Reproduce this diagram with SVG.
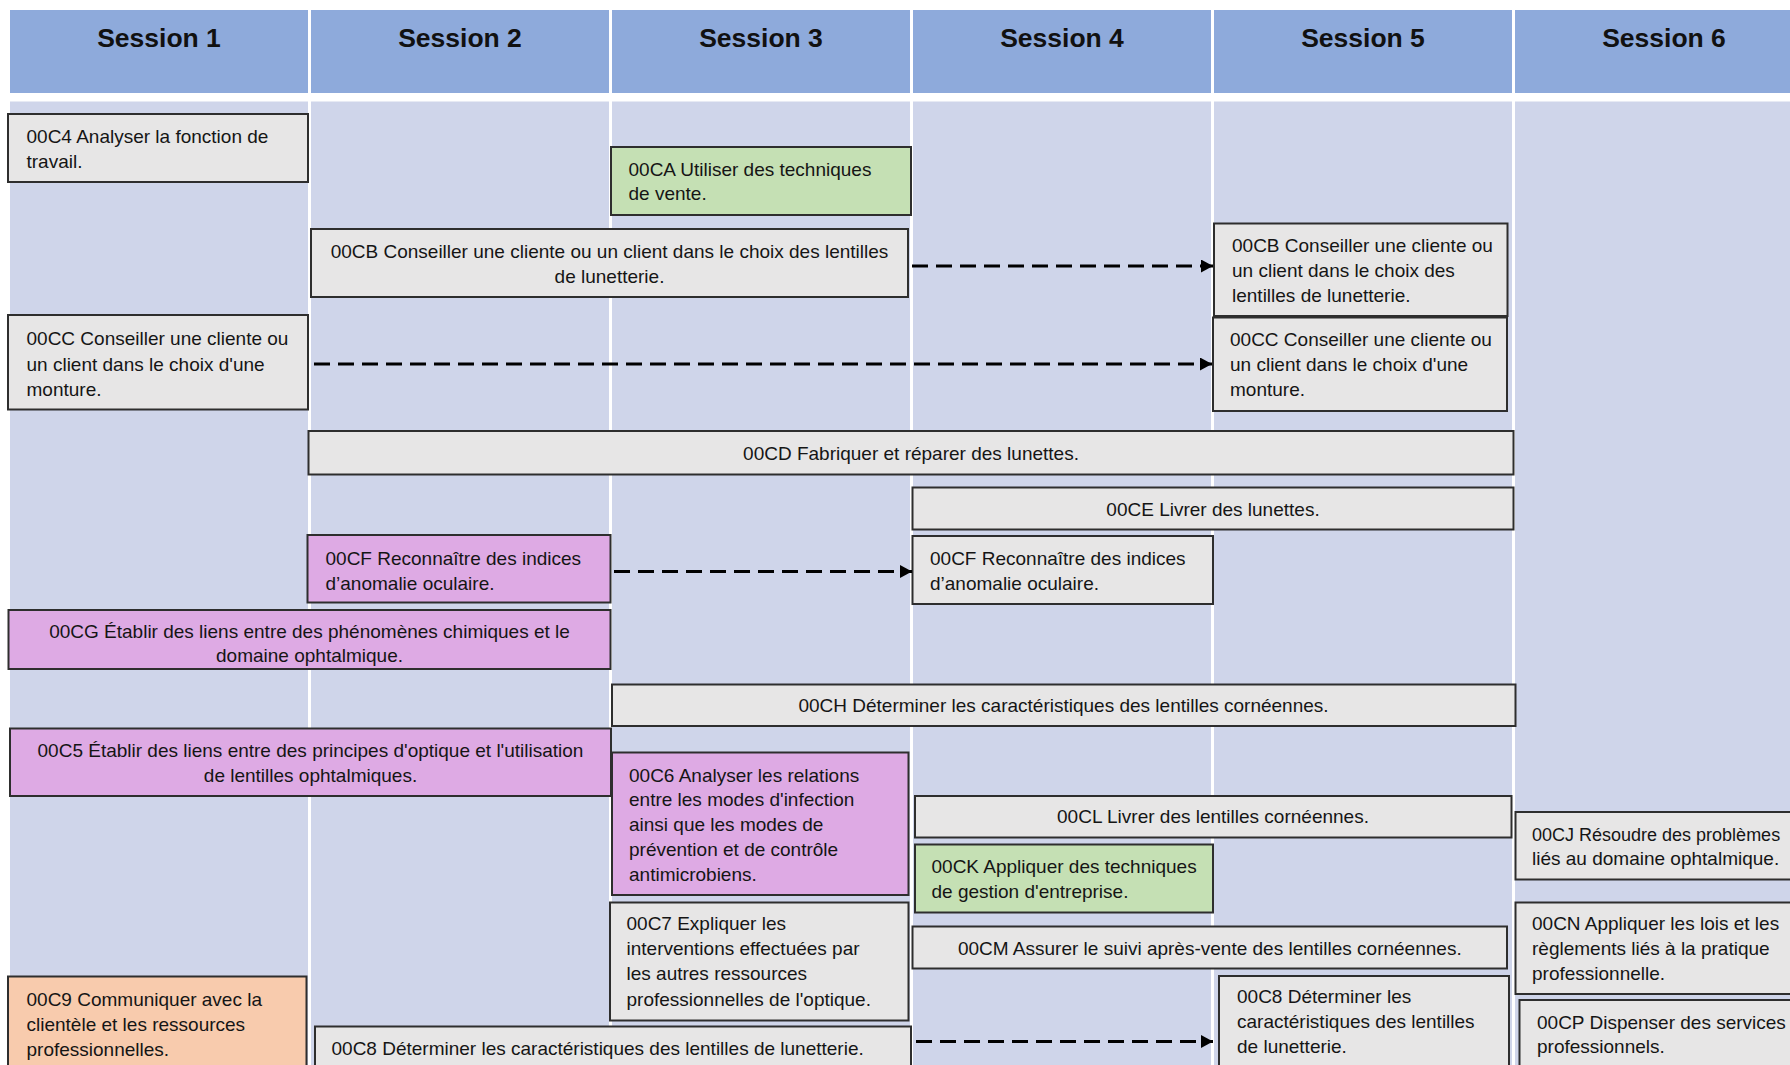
<svg xmlns="http://www.w3.org/2000/svg" width="1790" height="1065" viewBox="0 0 1790 1065">
<style>
.hd{fill:#8EAADB}
.bd{fill:#CFD5EA}
.ht{font-family:"Liberation Sans",Arial,sans-serif;font-weight:bold;font-size:26.5px;fill:#111;text-anchor:middle}
.t{font-family:"Liberation Sans",Arial,sans-serif;font-size:19px;fill:#151515}
.c{text-anchor:middle}
.gray{fill:#E7E6E6;stroke:#2e2e2e;stroke-width:2}
.green{fill:#C5E0B4;stroke:#2e2e2e;stroke-width:2}
.purple{fill:#DEAAE4;stroke:#2e2e2e;stroke-width:2}
.orange{fill:#F8CBAD;stroke:#2e2e2e;stroke-width:2}
.arr{stroke:#000;stroke-width:3;stroke-dasharray:16 8;fill:none;marker-end:url(#ah)}
</style>
<defs>
<marker id="ah" markerUnits="userSpaceOnUse" markerWidth="13" markerHeight="13" refX="12" refY="6.5" orient="auto">
<path d="M0,0 L12,6.5 L0,13 z" fill="#000"/>
</marker>
</defs>
<rect x="0" y="0" width="1790" height="1065" fill="#fff"/>
<g id="columns">
<rect class="hd" x="10" y="10" width="298" height="83"/>
<rect class="hd" x="311" y="10" width="298" height="83"/>
<rect class="hd" x="612" y="10" width="298" height="83"/>
<rect class="hd" x="913" y="10" width="298" height="83"/>
<rect class="hd" x="1214" y="10" width="298" height="83"/>
<rect class="hd" x="1515" y="10" width="280" height="83"/>
<rect class="bd" x="10" y="101.5" width="298" height="970"/>
<rect class="bd" x="311" y="101.5" width="298" height="970"/>
<rect class="bd" x="612" y="101.5" width="298" height="970"/>
<rect class="bd" x="913" y="101.5" width="298" height="970"/>
<rect class="bd" x="1214" y="101.5" width="298" height="970"/>
<rect class="bd" x="1515" y="101.5" width="280" height="970"/>
<text class="ht" x="159" y="47">Session 1</text>
<text class="ht" x="460" y="47">Session 2</text>
<text class="ht" x="761" y="47">Session 3</text>
<text class="ht" x="1062" y="47">Session 4</text>
<text class="ht" x="1363" y="47">Session 5</text>
<text class="ht" x="1664" y="47">Session 6</text>
</g>
<g id="n00C4"><rect class="gray" x="8" y="114" width="300" height="68"/>
<text class="t" x="26.5" y="143">00C4 Analyser la fonction de<tspan x="26.5" y="168">travail.</tspan></text></g>
<g id="n00CA"><rect class="green" x="611" y="147" width="300" height="68"/>
<text class="t" x="628.5" y="176">00CA Utiliser des techniques<tspan x="628.5" y="200">de vente.</tspan></text></g>
<g id="n00CB-s2"><rect class="gray" x="311" y="229" width="597" height="68"/>
<text class="t c" x="609.5" y="257.5">00CB Conseiller une cliente ou un client dans le choix des lentilles<tspan x="609.5" y="283">de lunetterie.</tspan></text></g>
<g id="n00CB-s5"><rect class="gray" x="1214" y="223.5" width="293.5" height="92.5"/>
<text class="t" x="1232" y="252">00CB Conseiller une cliente ou<tspan x="1232" y="277">un client dans le choix des</tspan><tspan x="1232" y="302">lentilles de lunetterie.</tspan></text></g>
<g id="n00CC-s1"><rect class="gray" x="8" y="315" width="300" height="94.5"/>
<text class="t" x="26.5" y="345">00CC Conseiller une cliente ou<tspan x="26.5" y="370.5">un client dans le choix d'une</tspan><tspan x="26.5" y="396">monture.</tspan></text></g>
<g id="n00CC-s5"><rect class="gray" x="1213" y="317.5" width="294" height="93.5"/>
<text class="t" x="1230" y="346">00CC Conseiller une cliente ou<tspan x="1230" y="371">un client dans le choix d'une</tspan><tspan x="1230" y="396">monture.</tspan></text></g>
<g id="n00CD"><rect class="gray" x="308.5" y="431" width="1205" height="43.5"/>
<text class="t c" x="911" y="459.5">00CD Fabriquer et réparer des lunettes.</text></g>
<g id="n00CE"><rect class="gray" x="912.5" y="487.5" width="601" height="42"/>
<text class="t c" x="1213" y="515.5">00CE Livrer des lunettes.</text></g>
<g id="n00CF-s2"><rect class="purple" x="307.5" y="535" width="303" height="67.5"/>
<text class="t" x="325.5" y="565">00CF Reconnaître des indices<tspan x="325.5" y="590">d’anomalie oculaire.</tspan></text></g>
<g id="n00CF-s4"><rect class="gray" x="912.5" y="536" width="300.5" height="68"/>
<text class="t" x="930" y="565">00CF Reconnaître des indices<tspan x="930" y="590">d’anomalie oculaire.</tspan></text></g>
<g id="n00CG"><rect class="purple" x="8.5" y="610" width="602" height="59"/>
<text class="t c" x="309.5" y="638">00CG Établir des liens entre des phénomènes chimiques et le<tspan x="309.5" y="662">domaine ophtalmique.</tspan></text></g>
<g id="n00CH"><rect class="gray" x="612" y="684.5" width="903.5" height="41.5"/>
<text class="t c" x="1063.5" y="712">00CH Déterminer les caractéristiques des lentilles cornéennes.</text></g>
<g id="n00C5"><rect class="purple" x="10" y="728.5" width="601" height="67.5"/>
<text class="t c" x="310.5" y="756.5">00C5 Établir des liens entre des principes d'optique et l'utilisation<tspan x="310.5" y="781.5">de lentilles ophtalmiques.</tspan></text></g>
<g id="n00C6"><rect class="purple" x="612" y="752.5" width="296.5" height="142.5"/>
<text class="t" x="629" y="781.5">00C6 Analyser les relations<tspan x="629" y="806">entre les modes d'infection</tspan><tspan x="629" y="830.5">ainsi que les modes de</tspan><tspan x="629" y="856">prévention et de contrôle</tspan><tspan x="629" y="880.5">antimicrobiens.</tspan></text></g>
<g id="n00CL"><rect class="gray" x="915" y="796" width="596.5" height="41.5"/>
<text class="t c" x="1213" y="823">00CL Livrer des lentilles cornéennes.</text></g>
<g id="n00CK"><rect class="green" x="915" y="844.5" width="298" height="68"/>
<text class="t" x="931.5" y="873">00CK Appliquer des techniques<tspan x="931.5" y="898">de gestion d'entreprise.</tspan></text></g>
<g id="n00CJ"><rect class="gray" x="1515.5" y="812" width="290" height="67.5"/>
<text class="t" x="1532" y="840.5" style="font-size:18px">00CJ Résoudre des problèmes</text>
<text class="t" x="1532" y="865">liés au domaine ophtalmique.</text></g>
<g id="n00C7"><rect class="gray" x="610" y="902.5" width="298.5" height="118"/>
<text class="t" x="626.5" y="930">00C7 Expliquer les<tspan x="626.5" y="955">interventions effectuées par</tspan><tspan x="626.5" y="980">les autres ressources</tspan><tspan x="626.5" y="1005.5">professionnelles de l'optique.</tspan></text></g>
<g id="n00CM"><rect class="gray" x="912.5" y="926.5" width="594.5" height="42"/>
<text class="t c" x="1209.8" y="955">00CM Assurer le suivi après-vente des lentilles cornéennes.</text></g>
<g id="n00CN"><rect class="gray" x="1515.5" y="902.5" width="290" height="91.5"/>
<text class="t" x="1532" y="930">00CN Appliquer les lois et les<tspan x="1532" y="955">règlements liés à la pratique</tspan><tspan x="1532" y="980">professionnelle.</tspan></text></g>
<g id="n00C9"><rect class="orange" x="8" y="976.5" width="298.5" height="100"/>
<text class="t" x="26.5" y="1006">00C9 Communiquer avec la<tspan x="26.5" y="1030.5">clientèle et les ressources</tspan><tspan x="26.5" y="1056">professionnelles.</tspan></text></g>
<g id="n00C8-s2"><rect class="gray" x="315" y="1026.5" width="596" height="50"/>
<text class="t" x="331.5" y="1055">00C8 Déterminer les caractéristiques des lentilles de lunetterie.</text></g>
<g id="n00C8-s5"><rect class="gray" x="1219" y="976" width="290" height="100"/>
<text class="t" x="1237" y="1003">00C8 Déterminer les<tspan x="1237" y="1028">caractéristiques des lentilles</tspan><tspan x="1237" y="1053">de lunetterie.</tspan></text></g>
<g id="n00CP"><rect class="gray" x="1519.5" y="1000" width="290" height="76"/>
<text class="t" x="1537" y="1029">00CP Dispenser des services<tspan x="1537" y="1053">professionnels.</tspan></text></g>
<g id="connectors">
<line class="arr" x1="912" y1="266" x2="1213" y2="266"/>
<line class="arr" x1="314" y1="364" x2="1212" y2="364"/>
<line class="arr" x1="614" y1="571.5" x2="912" y2="571.5"/>
<line class="arr" x1="916" y1="1041.5" x2="1213" y2="1041.5"/>
</g>
</svg>
